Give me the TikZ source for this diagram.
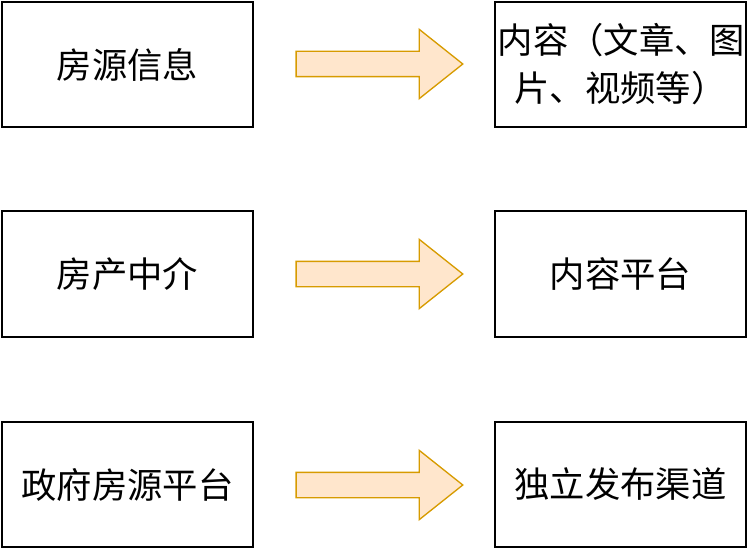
\documentclass[tikz,border=0pt]{standalone}
\usepackage{fontspec}
\setmainfont{Noto Sans CJK SC}
\usetikzlibrary{shapes.arrows, positioning}
\definecolor{arrowfill}{RGB}{255,230,204}
\definecolor{arrowline}{RGB}{215,155,0}
\begin{document}
\begin{tikzpicture}[x=0.75pt, y=-0.75pt,
                box/.style={rectangle, draw, line width=1.5pt, minimum width=188pt, minimum height=94pt, inner sep=0pt, align=center, font=\fontsize{26.5}{36}\selectfont, text width=184pt},
                blockarrow/.style={single arrow, draw=arrowline, fill=arrowfill, line width=1pt, minimum height=125pt, minimum width=51pt, single arrow head extend=16.5pt, single arrow tip angle=77, inner sep=9pt}]
                \useasboundingbox (0,0) rectangle (750,549);
                \node[box] (info) at (127.5,64.5) {房源信息};
                \node[box] (agent) at (127.5,274) {房产中介};
                \node[box] (gov) at (127.5,484.5) {政府房源平台};
                \node[box] (content) at (620.5,64.5) {内容（文章、图\\片、视频等）};
                \node[box] (platform) at (620.5,274) {内容平台};
                \node[box] (channel) at (620.5,484.5) {独立发布渠道};

                \node[blockarrow] (a0) at (371.5,64) {};
                \node[blockarrow] (a1) at (371.5,274) {};
                \node[blockarrow] (a2) at (371.5,485) {};
            \end{tikzpicture}
\end{document}
